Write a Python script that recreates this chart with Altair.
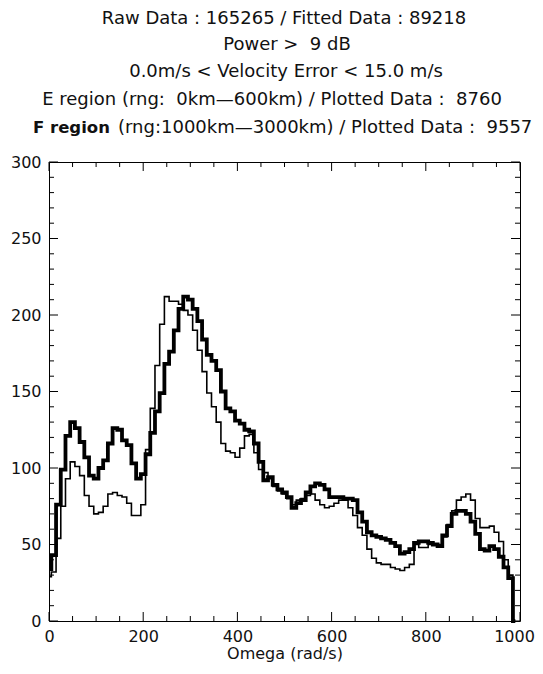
import altair as alt
import pandas as pd

# ---- data (histogram bins, 10 rad/s wide) ----
OMEGA = list(range(0, 1000, 10))

E_REGION = [29, 32, 54, 75, 93, 104, 101, 95, 82, 75,
            70, 71, 75, 83, 84, 82, 81, 77, 69, 69,
            76, 112, 139, 167, 194, 212, 209, 209, 207, 203,
            200, 190, 177, 163, 149, 140, 130, 116, 111, 110,
            107, 113, 121, 122, 110, 99, 97, 93, 88, 85,
            83, 80, 76, 79, 80, 82, 83, 79, 76, 74,
            75, 77, 79, 79, 74, 69, 61, 56, 47, 41,
            38, 37, 37, 35, 34, 33, 35, 37, 50, 48,
            48, 50, 50, 50, 55, 63, 72, 79, 81, 83,
            79, 67, 61, 61, 62, 58, 52, 40, 30, 0]

F_REGION = [34, 43, 76, 99, 121, 130, 126, 117, 107, 95,
            93, 100, 105, 116, 126, 125, 118, 115, 103, 93,
            96, 109, 123, 137, 149, 168, 176, 190, 204, 212,
            210, 204, 196, 184, 174, 170, 164, 150, 139, 137,
            131, 129, 125, 124, 116, 104, 92, 94, 89, 86,
            84, 81, 74, 77, 79, 84, 88, 90, 89, 86,
            81, 81, 81, 80, 80, 79, 71, 65, 58, 56,
            55, 54, 53, 51, 49, 44, 45, 47, 51, 52,
            52, 51, 50, 49, 56, 62, 70, 72, 72, 70,
            65, 57, 47, 46, 49, 47, 42, 35, 28, 0]

X_MAJOR = [0, 200, 400, 600, 800, 1000]
X_MINOR = [50, 100, 150, 250, 300, 350, 450, 500, 550, 650, 700, 750, 850, 900, 950]
Y_MAJOR = [0, 50, 100, 150, 200, 250, 300]
Y_MINOR = [10, 20, 30, 40, 60, 70, 80, 90, 110, 120, 130, 140, 160, 170, 180, 190,
           210, 220, 230, 240, 260, 270, 280, 290]

NB = "\u00a0"
TITLE_1 = "Raw Data : 165265 / Fitted Data : 89218"
TITLE_2 = "Power >" + NB + NB + "9 dB"
TITLE_3 = "0.0m/s < Velocity Error < 15.0 m/s"
TITLE_4 = "E region (rng:" + NB + NB + "0km—600km) / Plotted Data :" + NB + NB + "8760"
TITLE_5A = "F region"
TITLE_5B = "(rng:1000km—3000km) / Plotted Data :" + NB + NB + "9557"
X_TITLE = "Omega (rad/s)"

W, H = 471, 459
FONT = "DejaVu Sans"
TFS = 18
XS = alt.Scale(domain=[0, 1000], nice=False, zero=False)
YS = alt.Scale(domain=[0, 300], nice=False, zero=False)
XAX = alt.Axis(values=X_MAJOR, format="d", ticks=False, domain=False, grid=False,
               labelFont=FONT, labelFontSize=16, labelColor="#111",
               labelPadding=7, title=X_TITLE, titleFont=FONT,
               titleFontSize=16, titleFontWeight="normal", titleColor="#111",
               titlePadding=1, labelFlush=False,
               labelOffset={"condition": {"test": "datum.value == 1000", "value": -6},
                            "value": 0})
YAX = alt.Axis(values=Y_MAJOR, format="d", ticks=False, domain=False, grid=False,
               labelFont=FONT, labelFontSize=16, labelColor="#111",
               labelPadding=8, title=None, labelFlush=False)

df = pd.DataFrame({
    "omega": OMEGA * 2,
    "count": E_REGION + F_REGION,
    "region": ["E"] * len(OMEGA) + ["F"] * len(OMEGA),
})

e_line = alt.Chart(df).transform_filter(alt.datum.region == "E").mark_line(
    interpolate="step", color="black", strokeWidth=1.6, strokeCap="butt"
).encode(
    x=alt.X("omega:Q", scale=XS, axis=XAX),
    y=alt.Y("count:Q", scale=YS, axis=YAX),
)

f_line = alt.Chart(df).transform_filter(alt.datum.region == "F").mark_line(
    interpolate="step", color="black", strokeWidth=3.8, strokeCap="butt"
).encode(
    x=alt.X("omega:Q", scale=XS, axis=XAX),
    y=alt.Y("count:Q", scale=YS, axis=YAX),
)


def xticks(vals, length):
    d = pd.DataFrame({"v": vals})
    bottom = alt.Chart(d).mark_rule(color="black", strokeWidth=1).encode(
        x=alt.X("v:Q", scale=XS, axis=XAX), y=alt.value(H), y2=alt.value(H - length))
    top = alt.Chart(d).mark_rule(color="black", strokeWidth=1).encode(
        x=alt.X("v:Q", scale=XS, axis=XAX), y=alt.value(0), y2=alt.value(length))
    return [bottom, top]


def yticks(vals, length):
    d = pd.DataFrame({"v": vals})
    left = alt.Chart(d).mark_rule(color="black", strokeWidth=1).encode(
        y=alt.Y("v:Q", scale=YS, axis=YAX), x=alt.value(0), x2=alt.value(length))
    right = alt.Chart(d).mark_rule(color="black", strokeWidth=1).encode(
        y=alt.Y("v:Q", scale=YS, axis=YAX), x=alt.value(W), x2=alt.value(W - length))
    return [left, right]


def label(text, x, y, align="center", weight="normal", size=TFS):
    return alt.Chart(alt.Data(values=[{}])).mark_text(
        font=FONT, fontSize=size, fontWeight=weight, color="#111",
        align=align, baseline="middle"
    ).encode(x=alt.value(x), y=alt.value(y), text=alt.value(text))


layers = [e_line, f_line]
layers += xticks(X_MAJOR, 9) + xticks(X_MINOR, 5)
layers += yticks(Y_MAJOR, 9) + yticks(Y_MINOR, 5)
layers += [
    label(TITLE_1, 235, -143),
    label(TITLE_2, 238, -117),
    label(TITLE_3, 237, -90),
    label(TITLE_4, 223, -62),
    label(TITLE_5A, -16, -34, align="left", weight="bold", size=16.5),
    label(TITLE_5B, 69, -34, align="left"),
]

chart = alt.layer(*layers).properties(
    width=W, height=H,
    autosize=alt.AutoSizeParams(type="none"),
    padding={"left": 41, "top": 154, "right": 15, "bottom": 45},
).configure_view(stroke="black", strokeWidth=1)

chart.save("out.html", embed_options={"renderer": "svg", "actions": False})
